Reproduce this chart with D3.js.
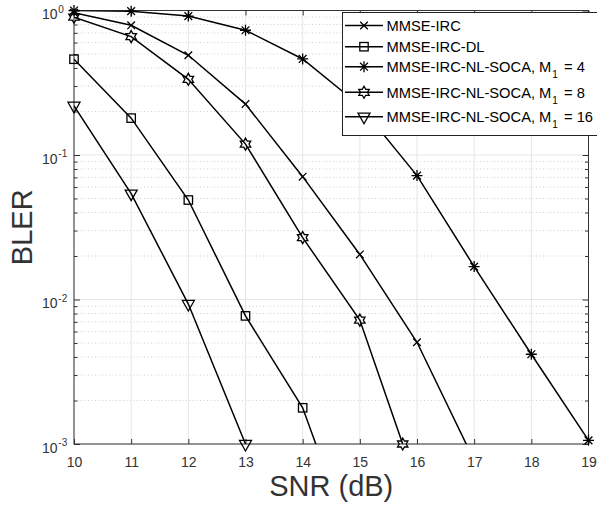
<!DOCTYPE html>
<html><head><meta charset="utf-8">
<script src="https://cdn.jsdelivr.net/npm/d3@7"></script>
<style>
body{margin:0;background:#fff}
svg{display:block}
text{font-family:"Liberation Sans",Arial,Helvetica,sans-serif}
</style>
</head><body>
<svg id="c" width="597" height="506"></svg>
<script>
// ---- data ----
const xTicks = [10, 11, 12, 13, 14, 15, 16, 17, 18, 19];
const yTicks = [1e-3, 1e-2, 1e-1, 1];
const yTickExp = ["-3", "-2", "-1", "0"];

const snrIRC  = [10, 11, 12, 13, 14, 15, 16, 17];
const blerIRC = [0.965, 0.79, 0.49, 0.225, 0.0708, 0.0205, 0.00506, 0.00077];

const snrDL  = [10, 11, 12, 13, 14, 15];
const blerDL = [0.46, 0.18, 0.0488, 0.0077, 0.00178, 0.000145];

const snrM4  = [10, 11, 12, 13, 14, 15, 16, 17, 18, 19];
const blerM4 = [1.0, 0.99, 0.915, 0.73, 0.462, 0.22, 0.072, 0.0169, 0.00418, 0.00106];

const snrM8  = [10, 11, 12, 13, 14, 15, 15.75];
const blerM8 = [0.90, 0.66, 0.334, 0.119, 0.0268, 0.0072, 0.001];

const snrM16  = [10, 11, 12, 13];
const blerM16 = [0.219, 0.054, 0.0093, 0.001];

const legendBase = ["MMSE-IRC", "MMSE-IRC-DL", "MMSE-IRC-NL-SOCA, M", "MMSE-IRC-NL-SOCA, M", "MMSE-IRC-NL-SOCA, M"];
const legendSub  = ["", "", "1", "1", "1"];
const legendTail = ["", "", " = 4", " = 8", " = 16"];
const markerKinds = ["x", "square", "star", "hexagram", "triangle"];

const xLabel = "SNR (dB)";
const yLabel = "BLER";

// ---- layout ----
const L = 74, R = 588.5, T = 10.5, B = 444;
const svg = d3.select("#c");
const x = d3.scaleLinear().domain([10, 19]).range([L, R]);
const y = d3.scaleLog().domain([1e-3, 1]).range([B, T]);

const axisCol = "#333";

// minor values
const yMinor = [];
for (let d = -3; d < 0; d++) for (let k = 2; k <= 9; k++) yMinor.push(k * Math.pow(10, d));

// grid
const grid = svg.append("g");
grid.selectAll(".mg").data(yMinor).join("line")
  .attr("x1", L).attr("x2", R).attr("y1", d => y(d)).attr("y2", d => y(d))
  .attr("stroke", "#cfcfcf").attr("stroke-width", 1).attr("stroke-dasharray", "1,2.5");
grid.selectAll(".gx").data(xTicks).join("line")
  .attr("x1", d => x(d)).attr("x2", d => x(d)).attr("y1", T).attr("y2", B)
  .attr("stroke", "#e6e6e6").attr("stroke-width", 1);
grid.selectAll(".gy").data(yTicks).join("line")
  .attr("x1", L).attr("x2", R).attr("y1", d => y(d)).attr("y2", d => y(d))
  .attr("stroke", "#e6e6e6").attr("stroke-width", 1);

// axes (ticks inward)
function styleAxis(g) {
  g.select(".domain").remove();
  g.selectAll(".tick line").attr("stroke", axisCol);
}
svg.append("g").attr("transform", `translate(0,${B})`)
  .call(d3.axisBottom(x).tickValues(xTicks).tickSizeInner(-5).tickSizeOuter(0).tickPadding(13).tickFormat(d3.format("d")))
  .call(styleAxis)
  .call(g => g.selectAll(".tick text").attr("fill", axisCol).attr("font-size", 14).attr("font-family", "Liberation Sans, Arial, sans-serif"));
svg.append("g").attr("transform", `translate(0,${T})`)
  .call(d3.axisTop(x).tickValues(xTicks).tickSizeInner(-5).tickSizeOuter(0).tickFormat(""))
  .call(styleAxis);
svg.append("g").attr("transform", `translate(${L},0)`)
  .call(d3.axisLeft(y).tickValues(yTicks).tickSizeInner(-6).tickSizeOuter(0).tickFormat(""))
  .call(styleAxis);
svg.append("g").attr("transform", `translate(${L},0)`)
  .call(d3.axisLeft(y).tickValues(yMinor).tickSizeInner(-3.5).tickSizeOuter(0).tickFormat(""))
  .call(styleAxis);
svg.append("g").attr("transform", `translate(${R},0)`)
  .call(d3.axisRight(y).tickValues(yTicks).tickSizeInner(-6).tickSizeOuter(0).tickFormat(""))
  .call(styleAxis);
svg.append("g").attr("transform", `translate(${R},0)`)
  .call(d3.axisRight(y).tickValues(yMinor).tickSizeInner(-3.5).tickSizeOuter(0).tickFormat(""))
  .call(styleAxis);

// y tick labels with superscripts
const yl = svg.append("g");
yTicks.forEach((v, i) => {
  const yy = y(v);
  yl.append("text").attr("x", 57.5).attr("y", yy + 8.5).attr("text-anchor", "end")
    .attr("font-size", 14).attr("fill", axisCol).text("10");
  yl.append("text").attr("x", 58.3).attr("y", yy + 2.3).attr("text-anchor", "start")
    .attr("font-size", 10).attr("fill", axisCol).text(yTickExp[i]);
});

// box
svg.append("rect").attr("x", L).attr("y", T).attr("width", R - L).attr("height", B - T)
  .attr("fill", "none").attr("stroke", axisCol).attr("stroke-width", 1);

// axis labels
svg.append("text").attr("x", (L + R) / 2).attr("y", 496).attr("text-anchor", "middle")
  .attr("font-size", 29).attr("fill", "#333").text(xLabel);
svg.append("text").attr("transform", `translate(32,${(T + B) / 2}) rotate(-90)`)
  .attr("text-anchor", "middle").attr("font-size", 29).attr("fill", "#333").text(yLabel);

// clip
svg.append("clipPath").attr("id", "clip").append("rect")
  .attr("x", L).attr("y", T).attr("width", R - L).attr("height", B - T);

// marker drawing
function drawMarker(g, kind, cx, cy) {
  const s = "#000", w = 1.3;
  if (kind === "x") {
    const r = 3.8;
    g.append("path").attr("d", `M${cx - r},${cy - r}L${cx + r},${cy + r}M${cx - r},${cy + r}L${cx + r},${cy - r}`)
      .attr("stroke", s).attr("stroke-width", w).attr("fill", "none");
  } else if (kind === "square") {
    const r = 4.2;
    g.append("rect").attr("x", cx - r).attr("y", cy - r).attr("width", 2 * r).attr("height", 2 * r)
      .attr("stroke", s).attr("stroke-width", w).attr("fill", "none");
  } else if (kind === "star") {
    const r = 5.5, d = r * 0.7071;
    g.append("path").attr("d",
      `M${cx - r},${cy}L${cx + r},${cy}M${cx},${cy - r}L${cx},${cy + r}` +
      `M${cx - d},${cy - d}L${cx + d},${cy + d}M${cx - d},${cy + d}L${cx + d},${cy - d}`)
      .attr("stroke", s).attr("stroke-width", w).attr("fill", "none");
  } else if (kind === "hexagram") {
    const ro = 6, ri = ro / Math.sqrt(3);
    const pts = [];
    for (let k = 0; k < 12; k++) {
      const a = -Math.PI / 2 + k * Math.PI / 6;
      const rr = k % 2 === 0 ? ro : ri;
      pts.push([cx + rr * Math.cos(a), cy + rr * Math.sin(a)]);
    }
    g.append("path").attr("d", d3.line()(pts) + "Z")
      .attr("stroke", s).attr("stroke-width", w).attr("fill", "none");
  } else if (kind === "triangle") {
    const hw = 6, top = cy - 3.6, bot = cy + 7.0;
    g.append("path").attr("d", `M${cx - hw},${top}L${cx + hw},${top}L${cx},${bot}Z`)
      .attr("stroke", s).attr("stroke-width", w).attr("fill", "none");
  }
}

const series = [
  [snrIRC, blerIRC], [snrDL, blerDL], [snrM4, blerM4], [snrM8, blerM8], [snrM16, blerM16]
];
const line = d3.line().x(d => x(d[0])).y(d => y(d[1]));
const lines = svg.append("g").attr("clip-path", "url(#clip)");
const mk = svg.append("g");
series.forEach(([xs, ys], i) => {
  const pts = xs.map((v, j) => [v, ys[j]]);
  lines.append("path").attr("d", line(pts)).attr("fill", "none")
    .attr("stroke", "#000").attr("stroke-width", 1.5);
  pts.filter(p => p[1] >= 1e-3 && p[1] <= 1).forEach(p => drawMarker(mk, markerKinds[i], x(p[0]), y(p[1])));
});

// legend
const lg = svg.append("g");
lg.append("rect").attr("x", 342.5).attr("y", 12.5).attr("width", 270).attr("height", 123)
  .attr("fill", "#fff").attr("stroke", "#222").attr("stroke-width", 1);
const rowY = [25.5, 46.7, 66.7, 92.3, 116.7];
legendBase.forEach((name, i) => {
  const yy = rowY[i];
  lg.append("line").attr("x1", 345).attr("x2", 383).attr("y1", yy).attr("y2", yy)
    .attr("stroke", "#000").attr("stroke-width", 1.5);
  drawMarker(lg, markerKinds[i], 364, yy);
  const t = lg.append("text").attr("x", 386.5).attr("y", yy + 5.2).attr("font-size", 14.7)
    .attr("fill", "#000").style("white-space", "pre");
  t.append("tspan").text(name);
  if (legendSub[i]) {
    t.append("tspan").attr("dx", 1).attr("dy", 6.5).attr("font-size", 10).text(legendSub[i]);
    t.append("tspan").attr("dx", 2).attr("dy", -6.5).attr("font-size", 14.7).text(legendTail[i]);
  }
});
</script>
</body></html>
